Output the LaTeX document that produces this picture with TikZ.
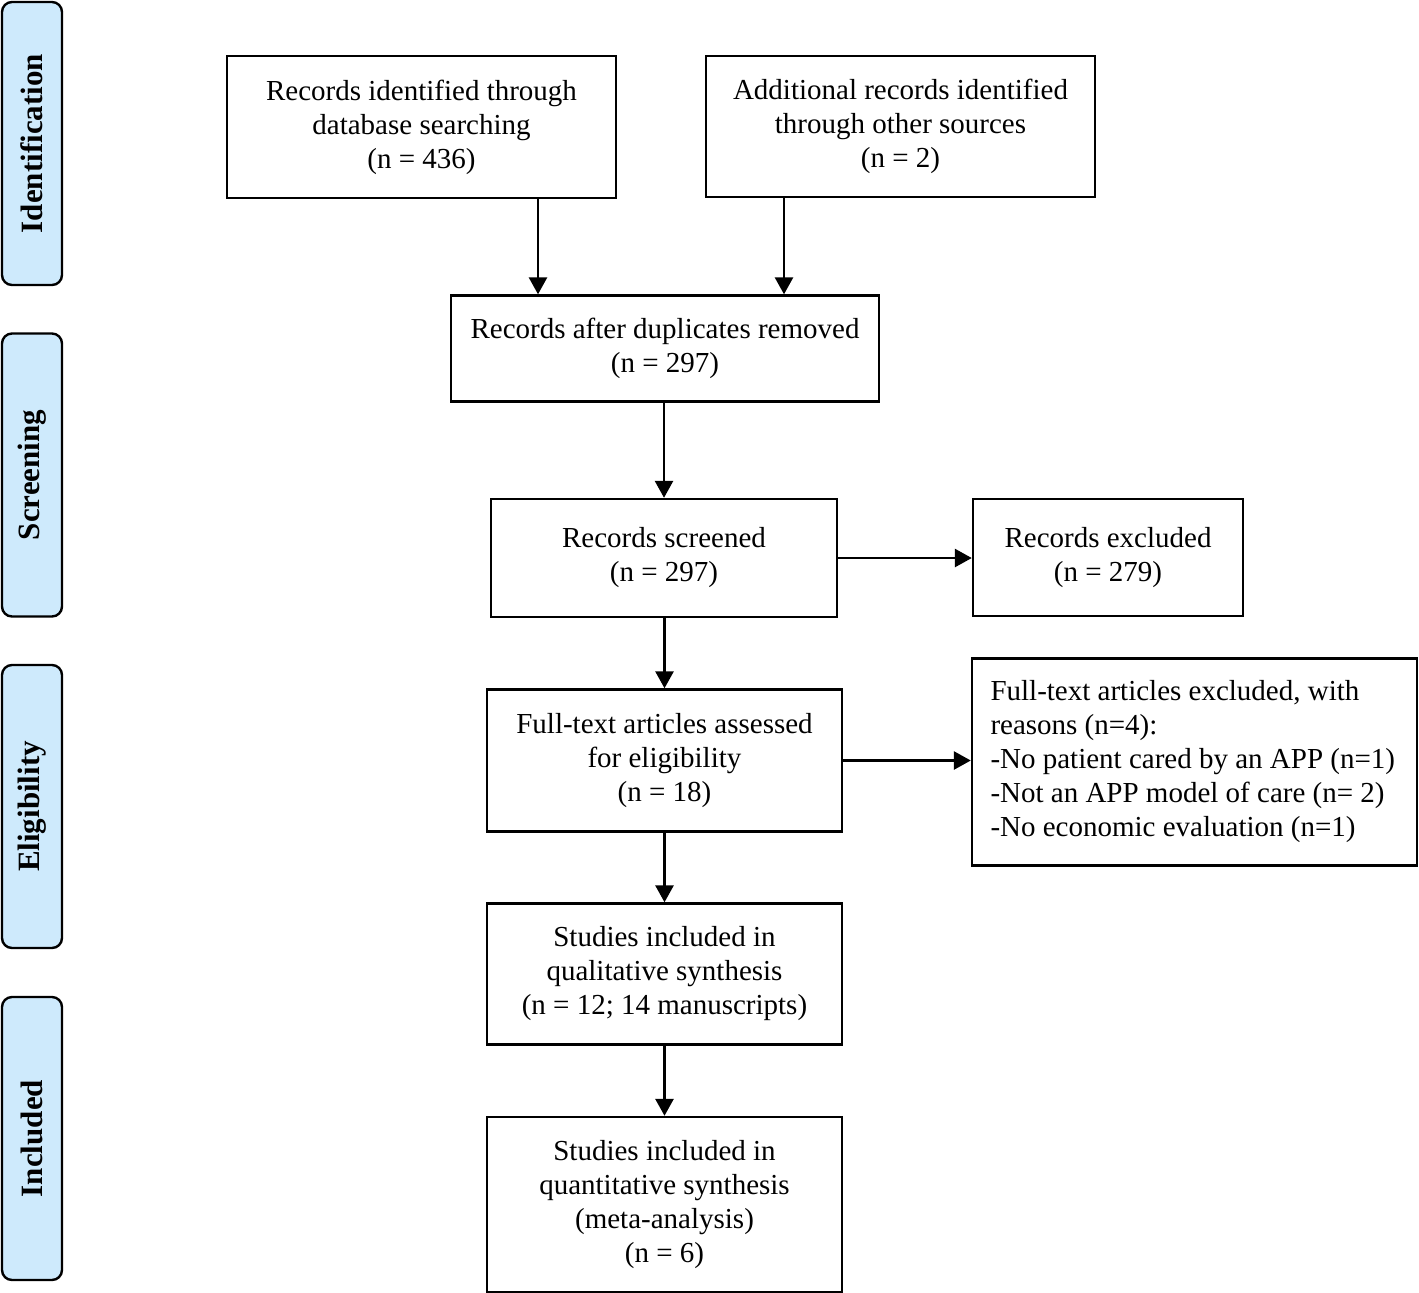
\documentclass[tikz,border=0pt]{standalone}
\usepackage{fontspec}
\setmainfont{Liberation Serif}
\usetikzlibrary{arrows.meta}
\definecolor{sideblue}{RGB}{206,234,252}
\begin{document}
\begin{tikzpicture}[x=0.5pt,y=-0.5pt,
  box/.style={draw=black, line width=1.2pt, align=center, inner sep=0pt,
    font=\fontsize{14.5}{17}\selectfont},
  sidebox/.style={draw=black, line width=1.2pt, fill=sideblue, rounded corners=5pt,
    rotate=90, minimum width=141.5pt, minimum height=30pt, inner sep=0pt,
    font=\fontsize{15.5}{17}\selectfont\bfseries},
  arr/.style={line width=1.4pt, -{Triangle[length=8.5pt,width=9pt]}}]
\useasboundingbox (0,0) rectangle (1419,1292);

% side labels
\node[sidebox] (s1) at (32,143.5) {Identification};
\node[sidebox] (s2) at (32,475) {Screening};
\node[sidebox] (s3) at (32,806.5) {Eligibility};
\node[sidebox] (s4) at (32,1138.5) {Included};

% main boxes
\node[box, minimum width=194.5pt, minimum height=71pt] (A) at (421.5,127)
  {Records identified through\\database searching\\(n = 436)};
\node[box, minimum width=194.5pt, minimum height=70.5pt] (B) at (900.5,126.5)
  {Additional records identified\\through other sources\\(n = 2)};
\node[box, minimum width=214pt, minimum height=53pt] (C) at (665,348.5)
  {Records after duplicates removed\\(n = 297)};
\node[box, minimum width=173pt, minimum height=59pt] (D) at (664,558)
  {Records screened\\(n = 297)};
\node[box, minimum width=135pt, minimum height=58.5pt] (E) at (1108,557.5)
  {Records excluded\\(n = 279)};
\node[box, minimum width=177.5pt, minimum height=71pt] (F) at (664.5,760.5)
  {Full-text articles assessed\\for eligibility\\(n = 18)};
\node[box, minimum width=222.5pt, minimum height=103.5pt, align=flush left, text width=204pt] (G) at (1194.5,762)
  {Full-text articles excluded, with\\reasons (n=4):\\-No patient cared by an APP (n=1)\\-Not an APP model of care (n= 2)\\-No economic evaluation (n=1)};
\node[box, minimum width=177.5pt, minimum height=70.5pt] (H) at (664.5,974)
  {Studies included in\\qualitative synthesis\\(n = 12; 14 manuscripts)};
\node[box, minimum width=177.5pt, minimum height=87.5pt] (I) at (664.5,1204.5)
  {Studies included in\\quantitative synthesis\\(meta-analysis)\\(n = 6)};

% arrow anchor columns
\coordinate (xa) at (538,0);
\coordinate (xb) at (784,0);

\draw[arr] (A.south -| xa) -- (C.north -| xa);
\draw[arr] (B.south -| xb) -- (C.north -| xb);
\draw[arr] (C.south -| D.north) -- (D.north);
\draw[arr] (D.east) -- (E.west |- D.east);
\draw[arr] (D.south -| F.north) -- (F.north);
\draw[arr] (F.east) -- (G.west |- F.east);
\draw[arr] (F.south) -- (H.north);
\draw[arr] (H.south) -- (I.north);
\end{tikzpicture}
\end{document}
